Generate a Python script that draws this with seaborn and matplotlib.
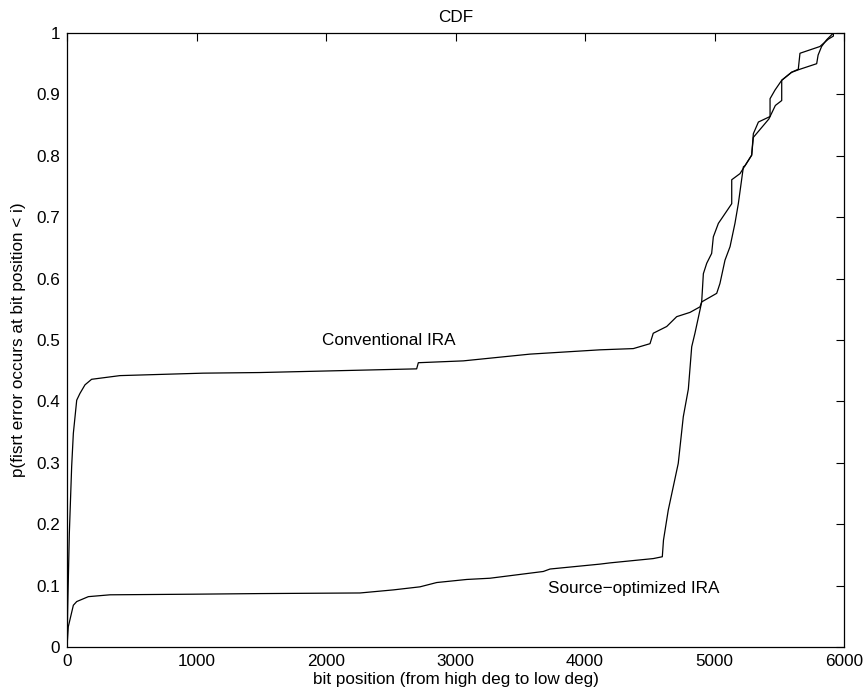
import matplotlib
matplotlib.use("Agg")
import matplotlib.pyplot as plt
import seaborn as sns

# Conventional IRA: cumulative probability of the first bit error position
conv_x = [0, 5, 18, 36, 49, 75, 100, 139, 190, 409, 1050, 1490, 2700, 2713,
          3060, 3575, 4116, 4373, 4502, 4527, 4631, 4708, 4811, 4888, 4901,
          5017, 5042, 5081, 5120, 5158, 5184, 5223, 5236, 5287, 5300, 5339,
          5429, 5429, 5467, 5519, 5595, 5647, 5660, 5814, 5879, 5918, 5918]
conv_y = [0.0, 0.06, 0.185, 0.294, 0.348, 0.402, 0.413, 0.427, 0.436, 0.442,
          0.446, 0.447, 0.453, 0.463, 0.466, 0.477, 0.484, 0.486, 0.494, 0.511,
          0.522, 0.538, 0.545, 0.554, 0.562, 0.576, 0.592, 0.630, 0.652, 0.690,
          0.722, 0.782, 0.784, 0.801, 0.836, 0.855, 0.864, 0.893, 0.907, 0.923,
          0.936, 0.941, 0.967, 0.978, 0.990, 0.995, 1.0]

# Source-optimized IRA
src_x = [0, 10, 49, 75, 165, 332, 975, 1490, 2263, 2520, 2726, 2855, 3087,
         3266, 3678, 3730, 4116, 4193, 4527, 4597, 4606, 4643, 4720, 4759,
         4798, 4824, 4849, 4888, 4901, 4914, 4940, 4978, 4991, 5030, 5056,
         5133, 5133, 5197, 5236, 5287, 5300, 5340, 5420, 5470, 5519, 5519,
         5595, 5660, 5789, 5800, 5827, 5866, 5904, 5918]
src_y = [0.0, 0.033, 0.068, 0.074, 0.082, 0.085, 0.086, 0.087, 0.088, 0.093,
         0.098, 0.105, 0.110, 0.112, 0.123, 0.127, 0.135, 0.137, 0.144, 0.147,
         0.174, 0.223, 0.299, 0.375, 0.420, 0.489, 0.511, 0.549, 0.562, 0.608,
         0.625, 0.641, 0.668, 0.690, 0.698, 0.722, 0.761, 0.771, 0.784, 0.801,
         0.830, 0.840, 0.860, 0.882, 0.890, 0.923, 0.936, 0.941, 0.950, 0.964,
         0.978, 0.989, 0.997, 1.0]

x_ticks = [0, 1000, 2000, 3000, 4000, 5000, 6000]
y_ticks = [0, 0.1, 0.2, 0.3, 0.4, 0.5, 0.6, 0.7, 0.8, 0.9, 1]
y_tick_labels = ["0", "0.1", "0.2", "0.3", "0.4", "0.5", "0.6", "0.7", "0.8", "0.9", "1"]

sns.set_style("white")
plt.rcParams["font.family"] = ["Liberation Sans", "DejaVu Sans"]
plt.rcParams["font.size"] = 12.3
plt.rcParams["text.color"] = "black"
plt.rcParams["axes.labelcolor"] = "black"

fig = plt.figure(figsize=(8.68, 6.98), dpi=100)
ax = fig.add_axes([67 / 868, 51 / 698, 777 / 868, 614 / 698])

sns.lineplot(x=conv_x, y=conv_y, sort=False, estimator=None, color="black",
             linewidth=0.9, ax=ax)
sns.lineplot(x=src_x, y=src_y, sort=False, estimator=None, color="black",
             linewidth=0.9, ax=ax)

ax.set_xlim(0, 6000)
ax.set_ylim(0, 1)
ax.set_xticks(x_ticks)
ax.set_xticklabels([str(v) for v in x_ticks])
ax.set_yticks(y_ticks)
ax.set_yticklabels(y_tick_labels)
ax.tick_params(direction="in", length=6, width=0.8, top=True, right=True,
               labelsize=12.3, colors="black", pad=5)
for s in ax.spines.values():
    s.set_color("black")
    s.set_linewidth(0.9)

ax.set_title("CDF", fontsize=12.3, pad=8, color="black")
ax.set_xlabel("bit position (from high deg to low deg)", fontsize=12.3, labelpad=2)
ax.set_ylabel("p(fisrt error occurs at bit position < i)", fontsize=12.3, labelpad=7)

ax.text(1967, 0.499, "Conventional IRA", fontsize=12.3, va="center", ha="left")
ax.text(3717, 0.0956, "Source\u2212optimized IRA", fontsize=12.3, va="center", ha="left")

fig.savefig("out.png", dpi=100, facecolor="white")
